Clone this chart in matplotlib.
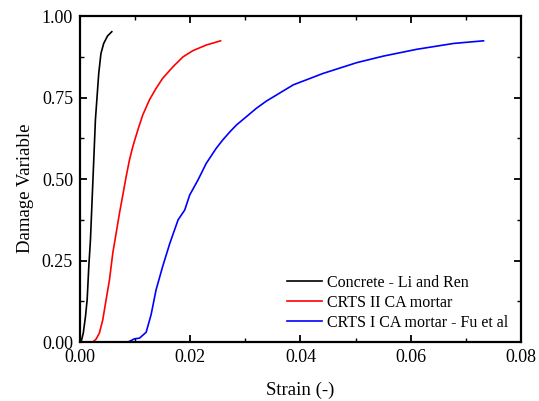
import matplotlib
matplotlib.use("Agg")
import matplotlib.pyplot as plt
from matplotlib.ticker import MultipleLocator

plt.rcParams['font.family'] = ['Liberation Serif', 'DejaVu Serif']

# Concrete - Li and Ren
conc_x = [0.0, 0.0002, 0.0006, 0.0010, 0.0013, 0.0016, 0.0019, 0.0022, 0.0025, 0.0028, 0.0031,
          0.0034, 0.0038, 0.0043, 0.0050, 0.00577]
conc_y = [0.0, 0.0, 0.028, 0.079, 0.130, 0.232, 0.314, 0.437, 0.559, 0.682, 0.753,
          0.824, 0.885, 0.916, 0.939, 0.952]

# CRTS II CA mortar
crts2_x = [0.0, 0.00231, 0.00292, 0.00353, 0.00413, 0.00474, 0.00535, 0.00595, 0.00656, 0.00716, 0.00777,
           0.00838, 0.00898, 0.00959, 0.0105, 0.0114, 0.0126, 0.0138, 0.0150, 0.0169, 0.0187, 0.0205,
           0.0229, 0.0255]
crts2_y = [0.0, 0.0, 0.009, 0.028, 0.068, 0.130, 0.191, 0.273, 0.334, 0.395, 0.451,
           0.508, 0.559, 0.600, 0.651, 0.697, 0.743, 0.778, 0.809, 0.845, 0.875, 0.894,
           0.911, 0.924]

# CRTS I CA mortar - Fu et al
crts1_x = [0.0, 0.0087, 0.0099, 0.0108, 0.0120, 0.0129, 0.0138, 0.0150, 0.0163, 0.0178, 0.0190, 0.0199, 0.0214, 0.0229,
           0.0247, 0.0259, 0.0272, 0.0284, 0.0320, 0.0338, 0.0387, 0.0441, 0.0502, 0.0550, 0.0611, 0.0678, 0.0732]
crts1_y = [0.0, 0.0, 0.010, 0.012, 0.030, 0.084, 0.160, 0.232, 0.303, 0.375, 0.405, 0.451, 0.497, 0.548,
           0.594, 0.620, 0.645, 0.666, 0.717, 0.739, 0.789, 0.824, 0.857, 0.877, 0.898, 0.916, 0.924]

fig = plt.figure(figsize=(5.39, 4.01), dpi=100)
ax = fig.add_axes([0.1484, 0.147, 0.8182, 0.813])

ax.plot(conc_x, conc_y, color='black', lw=1.2, label='Concrete - Li and Ren')
ax.plot(crts2_x, crts2_y, color='red', lw=1.2, label='CRTS II CA mortar')
ax.plot(crts1_x, crts1_y, color='blue', lw=1.2, label='CRTS I CA mortar - Fu et al')

ax.set_xlim(0, 0.08)
ax.set_ylim(0, 1.0)
ax.xaxis.set_major_locator(MultipleLocator(0.02))
ax.xaxis.set_minor_locator(MultipleLocator(0.01))
ax.yaxis.set_major_locator(MultipleLocator(0.25))
ax.yaxis.set_minor_locator(MultipleLocator(0.125))
ax.xaxis.set_major_formatter(plt.FuncFormatter(lambda v, p: f"{v:.2f}"))
ax.yaxis.set_major_formatter(plt.FuncFormatter(lambda v, p: f"{v:.2f}"))

ax.tick_params(which='both', direction='in', top=True, right=True, labelsize=13)
ax.tick_params(which='major', length=5, width=1.3, pad=5)
ax.tick_params(which='minor', length=3, width=1.0)
for s in ax.spines.values():
    s.set_linewidth(1.6)

ax.set_xlabel('Strain (-)', fontsize=13.5, va='center')
ax.xaxis.set_label_coords(0.5, -0.149)
ax.set_ylabel('Damage Variable', fontsize=13.5, va='center')
ax.yaxis.set_label_coords(-0.124, 0.473)

leg = ax.legend(loc='lower right', bbox_to_anchor=(0.97, 0.035), frameon=False, fontsize=11.5,
                handlelength=2.2, handletextpad=0.3, labelspacing=0.25, borderpad=0, borderaxespad=0)

fig.savefig('out.png', dpi=100)
